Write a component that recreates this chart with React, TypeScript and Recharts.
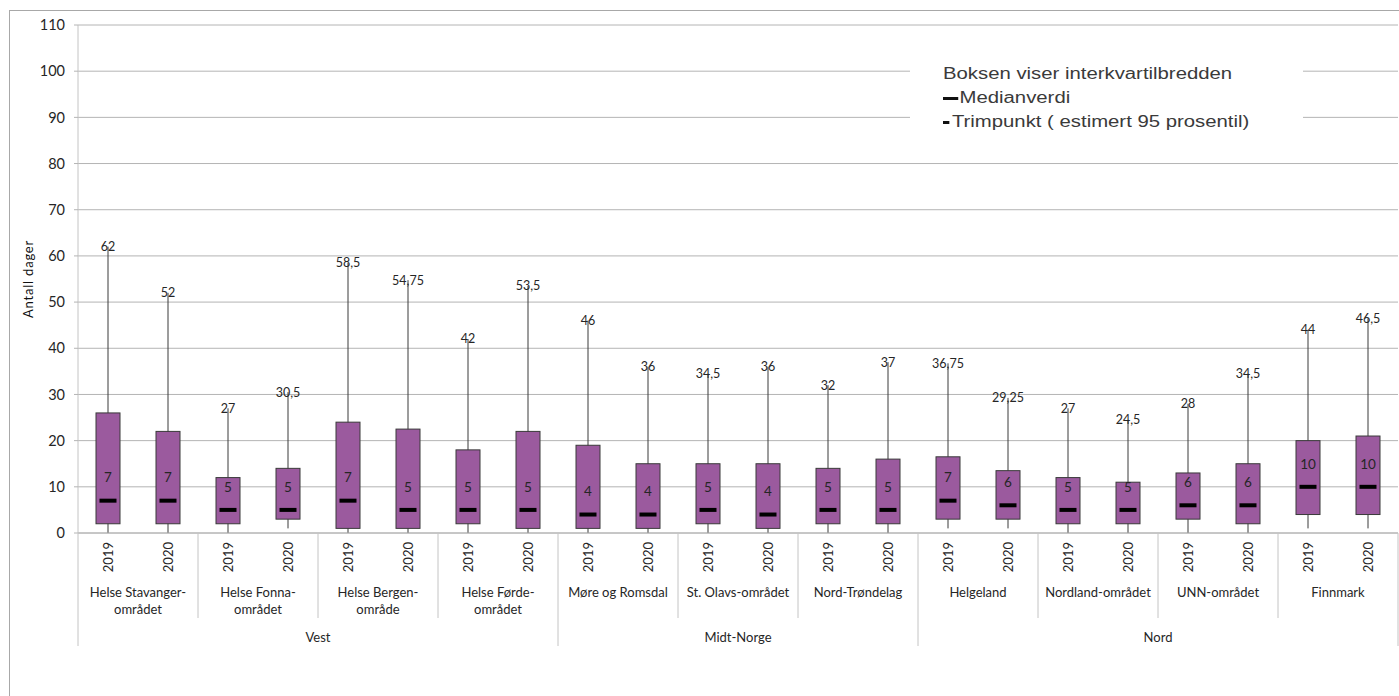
import { ComposedChart, Bar, XAxis, YAxis, CartesianGrid } from "recharts";

// one entry per region, two boxes (2019, 2020) each
const regionLabels = [
  ["Helse Stavanger-", "området"],
  ["Helse Fonna-", "området"],
  ["Helse Bergen-", "område"],
  ["Helse Førde-", "området"],
  ["Møre og Romsdal"],
  ["St. Olavs-området"],
  ["Nord-Trøndelag"],
  ["Helgeland"],
  ["Nordland-området"],
  ["UNN-området"],
  ["Finnmark"],
];
const superGroups = [
  { name: "Vest", regions: 4 },
  { name: "Midt-Norge", regions: 3 },
  { name: "Nord", regions: 4 },
];
const years = ["2019", "2020"];

const mins = [0, 0, 0, 1, 0, 0, 0, 0, 0, 0, 0, 0, 0, 0, 1, 1, 0, 0, 0, 0, 1, 1];
const q1s = [2, 2, 2, 3, 1, 1, 2, 1, 1, 1, 2, 1, 2, 2, 3, 3, 2, 2, 3, 2, 4, 4];
const medians = [7, 7, 5, 5, 7, 5, 5, 5, 4, 4, 5, 4, 5, 5, 7, 6, 5, 5, 6, 6, 10, 10];
const q3s = [26, 22, 12, 14, 24, 22.5, 18, 22, 19, 15, 15, 15, 14, 16, 16.5, 13.5, 12, 11, 13, 15, 20, 21];
const maxes = [62, 52, 27, 30.5, 58.5, 54.75, 42, 53.5, 46, 36, 34.5, 36, 32, 37, 36.75, 29.25, 27, 24.5, 28, 34.5, 44, 46.5];

const yTicks = [0, 10, 20, 30, 40, 50, 60, 70, 80, 90, 100, 110];

const rows = maxes.map((max, i) => ({
  key: `${i}`,
  year: years[i % 2],
  region: Math.floor(i / 2),
  min: mins[i],
  q1: q1s[i],
  median: medians[i],
  q3: q3s[i],
  max,
}));

const CHART_W = 1399;
const CHART_H = 696;
const MARGIN = { top: 25, right: 1, left: 10, bottom: 0 };
const Y_W = 68;
const X_H = 163;
const PLOT_BOTTOM = CHART_H - MARGIN.bottom - X_H;
const BAND = (CHART_W - MARGIN.left - MARGIN.right - Y_W) / rows.length;

const BOX_FILL = "#9b5a9e";
const DARK = "#3a3a3a";
const GRID = "#b4b4b4";
const DIVIDER = "#c4c4c4";
const TEXT = "#262626";

const fmt = (v: number) => String(v).replace(".", ",");

// first region index of every super group
const superStarts: number[] = [];
superGroups.reduce((acc, g) => {
  superStarts.push(acc);
  return acc + g.regions;
}, 0);

function BoxShape(props: any) {
  const { x, y, width, height, payload } = props;
  const top = Math.min(y, y + height);
  const h = Math.abs(height);
  const ppu = h / (payload.max - payload.min);
  const py = (v: number) => top + (payload.max - v) * ppu;
  const cx = x + width / 2;
  const boxTop = py(payload.q3);
  const boxBot = py(payload.q1);
  const medY = py(payload.median);
  return (
    <g>
      <line x1={cx} x2={cx} y1={top} y2={py(payload.min)} stroke={DARK} strokeWidth={1} />
      <rect
        x={x}
        y={boxTop}
        width={width}
        height={boxBot - boxTop}
        fill={BOX_FILL}
        stroke={DARK}
        strokeWidth={1}
      />
      <line x1={cx - 8.5} x2={cx + 8.5} y1={medY} y2={medY} stroke="#000" strokeWidth={4} />
      <text x={cx} y={medY - 23} textAnchor="middle" dy="0.35em" fontSize={13.5} fill={TEXT}>
        {fmt(payload.median)}
      </text>
      <text x={cx} y={top} textAnchor="middle" dy="0.35em" fontSize={12.5} fill={TEXT}>
        {fmt(payload.max)}
      </text>
    </g>
  );
}

function CategoryTick(props: any) {
  const { x, index } = props;
  const row = rows[index];
  const half = BAND / 2;
  const isRegionStart = index % 2 === 0;
  const superIdx = superStarts.indexOf(row.region);
  const isSuperStart = isRegionStart && superIdx >= 0;
  const lines = regionLabels[row.region];
  const isLast = index === rows.length - 1;
  return (
    <g>
      <text
        transform={`translate(${x},${PLOT_BOTTOM + 9}) rotate(-90)`}
        textAnchor="end"
        dy="0.35em"
        fontSize={13}
        fill={TEXT}
      >
        {row.year}
      </text>
      {isRegionStart && (
        <line
          x1={x - half}
          x2={x - half}
          y1={PLOT_BOTTOM}
          y2={PLOT_BOTTOM + (isSuperStart ? 113 : 85)}
          stroke={DIVIDER}
        />
      )}
      {isLast && (
        <line x1={x + half} x2={x + half} y1={PLOT_BOTTOM} y2={PLOT_BOTTOM + 113} stroke={DIVIDER} />
      )}
      {isRegionStart &&
        lines.map((t, k) => (
          <text
            key={k}
            x={x + half}
            y={PLOT_BOTTOM + 59 + k * 17}
            textAnchor="middle"
            dy="0.35em"
            fontSize={13}
            fill={TEXT}
          >
            {t}
          </text>
        ))}
      {isSuperStart && (
        <text
          x={x - half + superGroups[superIdx].regions * BAND}
          y={PLOT_BOTTOM + 104}
          textAnchor="middle"
          dy="0.35em"
          fontSize={13}
          fill={TEXT}
        >
          {superGroups[superIdx].name}
        </text>
      )}
    </g>
  );
}

export default function App() {
  return (
    <div
      style={{
        position: "absolute",
        left: 0,
        top: 0,
        width: CHART_W,
        height: CHART_H,
        overflow: "hidden",
        background: "#fff",
        fontFamily: "Lato",
      }}
    >
      <div
        style={{
          position: "absolute",
          left: 9,
          top: 10,
          width: CHART_W,
          height: CHART_H,
          border: "1px solid #a8a8a8",
        }}
      />
      <ComposedChart width={CHART_W} height={CHART_H} data={rows} margin={MARGIN}>
        <CartesianGrid horizontal vertical={false} stroke={GRID} />
        <XAxis
          dataKey="key"
          interval={0}
          height={X_H}
          tickLine={false}
          axisLine={{ stroke: GRID }}
          tick={<CategoryTick />}
        />
        <YAxis
          width={Y_W}
          domain={[0, 110]}
          ticks={yTicks}
          interval={0}
          tickSize={4}
          tickMargin={9}
          tickLine={{ stroke: GRID }}
          axisLine={{ stroke: DIVIDER }}
          tick={{ fontSize: 14.5, fill: TEXT }}
          label={{
            value: "Antall dager",
            angle: -90,
            position: "insideLeft",
            offset: 18,
            style: { fontSize: 13, letterSpacing: 0.8, fill: "#111", textAnchor: "middle" },
          }}
        />
        <Bar
          dataKey={(d: any) => [d.min, d.max]}
          barSize={24}
          shape={<BoxShape />}
          isAnimationActive={false}
        />
      </ComposedChart>
      <div
        style={{
          position: "absolute",
          left: 910,
          top: 56,
          width: 393,
          height: 84,
          background: "#fff",
        }}
      >
        <div
          style={{
            position: "absolute",
            left: 33,
            top: 6,
            whiteSpace: "nowrap",
            fontFamily: "Liberation Sans",
            fontSize: 16,
            lineHeight: "24px",
            color: "#3a3a3a",
            transform: "scaleX(1.27)",
            transformOrigin: "left top",
          }}
        >
          <div>Boksen viser interkvartilbredden</div>
          <div>
            <span style={{ display: "inline-block", width: 12, height: 3, background: "#111", verticalAlign: "middle", marginRight: 1 }} />
            Medianverdi
          </div>
          <div>
            <span style={{ display: "inline-block", width: 5, height: 3, background: "#111", verticalAlign: "middle", marginRight: 2 }} />
            Trimpunkt ( estimert 95 prosentil)
          </div>
        </div>
      </div>
    </div>
  );
}
